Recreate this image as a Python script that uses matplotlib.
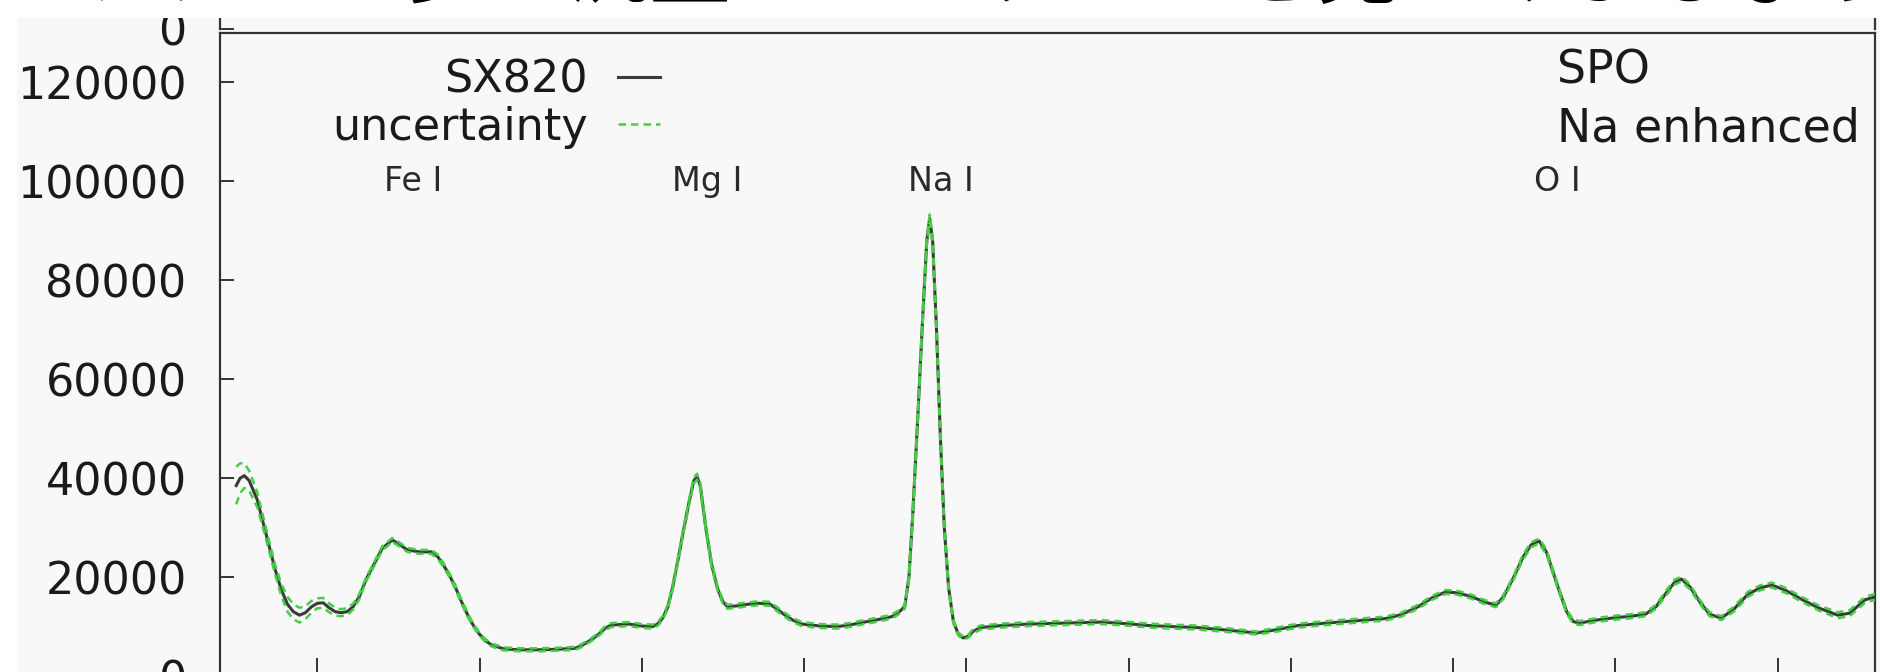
import matplotlib
matplotlib.use("Agg")
import matplotlib.pyplot as plt
from matplotlib.patches import Rectangle

# ---------------- data ----------------
wavelength = [
    375.0, 376.2, 377.5, 379.0, 381.5, 383.3, 385.2, 387.0, 388.9, 390.8,
    392.6, 394.5, 396.3, 398.2, 400.0, 401.8, 403.6, 405.5, 407.3, 409.2,
    411.0, 412.9, 415.0, 417.4, 420.0, 423.1, 425.5, 427.7, 431.4, 435.1,
    437.0, 438.8, 440.6, 442.5, 444.3, 446.2, 448.0, 449.9, 451.7, 453.6,
    457.3, 462.0, 468.3, 474.0, 479.4, 481.3, 483.1, 485.0, 486.8, 488.6,
    490.5, 496.1, 500.0, 503.4, 505.0, 506.5, 508.0, 509.5, 511.0, 512.7,
    514.5, 516.0, 517.0, 518.0, 519.7, 521.5, 523.4, 525.0, 526.4, 529.5,
    532.6, 536.0, 539.3, 541.5, 543.7, 546.5, 549.3, 555.0, 560.3, 564.0,
    567.7, 572.0, 577.0, 579.0, 581.0, 582.3, 583.5, 585.0, 586.5, 587.8,
    588.7, 589.6, 590.8, 592.0, 593.2, 594.5, 596.0, 597.5, 599.0, 600.5,
    602.0, 604.4, 611.0, 619.2, 630.0, 641.4, 649.0, 656.2, 663.0, 670.9,
    680.0, 689.4, 695.0, 702.2, 711.0, 720.7, 729.2, 734.0, 739.2, 743.5,
    747.7, 751.5, 755.8, 759.5, 763.2, 765.5, 768.7, 771.5, 774.0, 776.5,
    778.8, 780.8, 782.8, 785.0, 787.0, 789.0, 794.0, 800.1, 805.0, 809.3,
    812.5, 815.9, 818.3, 820.4, 823.0, 826.0, 829.0, 832.6, 836.5, 840.8,
    844.5, 848.2, 852.5, 857.4, 862.5, 868.5, 872.2, 876.9, 880.0]
sx820 = [
    38500, 40000, 40500, 39500, 35600, 31000, 26100, 21500, 17400, 14500,
    13000, 12300, 12800, 14000, 14700, 14800, 13800, 13000, 12800, 13000,
    14000, 16000, 19500, 22500, 25800, 27500, 26500, 25500, 25100, 25100,
    24200, 22500, 20500, 18000, 15200, 12500, 10300, 8500, 7200, 6300,
    5500, 5300, 5300, 5400, 5600, 6100, 6800, 7600, 8500, 9600,
    10300, 10500, 10100, 10000, 10600, 11800, 14000, 18000, 23000, 29000,
    35000, 39500, 40300, 38500, 30000, 22500, 17500, 15000, 14000, 14200,
    14500, 14700, 14600, 13600, 12500, 11300, 10500, 10100, 10000, 10300,
    10800, 11300, 12000, 12800, 14000, 20000, 33000, 52000, 72000, 88000,
    92500, 88000, 70000, 48000, 30000, 18000, 11000, 8500, 7700, 8000,
    9000, 9800, 10200, 10500, 10700, 10900, 10600, 10200, 10000, 9800,
    9300, 8700, 9300, 10200, 10700, 11200, 11600, 12400, 14000, 15800,
    17000, 16800, 16000, 15000, 14300, 16000, 20000, 24000, 26500, 27300,
    25000, 21000, 17000, 13000, 11000, 10700, 11300, 11800, 12100, 12500,
    14000, 17000, 19000, 19600, 18000, 15000, 12500, 11700, 13500, 16500,
    17800, 18400, 17300, 15500, 13800, 12300, 12700, 15400, 16000]
uncertainty = [
    3800, 3000, 2500, 2000, 1500, 1200, 1000, 1000, 1200, 1500,
    1500, 1500, 1300, 1200, 1000, 1000, 900, 800, 700, 700,
    600, 500, 400, 400, 400, 400, 400, 400, 400, 400,
    400, 400, 400, 400, 400, 400, 300, 300, 300, 300,
    300, 300, 300, 300, 300, 300, 300, 300, 300, 400,
    400, 400, 400, 400, 400, 400, 400, 400, 500, 500,
    500, 600, 600, 600, 500, 500, 400, 400, 400, 400,
    400, 400, 400, 400, 400, 400, 400, 400, 400, 400,
    400, 400, 400, 400, 400, 500, 600, 700, 800, 800,
    800, 800, 800, 700, 600, 500, 400, 300, 300, 300,
    400, 400, 400, 400, 400, 400, 400, 400, 400, 400,
    400, 300, 400, 400, 400, 400, 400, 400, 400, 400,
    400, 400, 400, 400, 400, 400, 400, 500, 500, 500,
    500, 500, 400, 400, 400, 400, 400, 400, 400, 400,
    400, 500, 500, 500, 500, 400, 400, 400, 500, 500,
    500, 500, 500, 500, 500, 600, 600, 600, 600]

line_names = ["Fe I", "Mg I", "Na I", "O I"]
line_wavelengths = [429.6, 520.1, 592.0, 782.0]
line_label_level = 100000

y_ticks = [0, 20000, 40000, 60000, 80000, 100000, 120000]
y_tick_labels = ["0", "20000", "40000", "60000", "80000", "100000", "120000"]
x_ticks = [400, 450, 500, 550, 600, 650, 700, 750, 800, 850]

series_label = "SX820"
uncert_label = "uncertainty"
key_title = ["SPO", "Na enhanced"]
caption = "ナトリウムの多い流星のスペクトルを見てみましょう！"

# ---------------- layout ----------------
W, H = 1881, 672
BG = "#f8f8f8"
FS = 32
fig = plt.figure(figsize=(W / 100, H / 100), dpi=100, facecolor=BG)


def fx(px):
    return px / W


def fy(px):
    return 1 - px / H


plt.rcParams["font.family"] = ["DejaVu Sans"]

ax = fig.add_axes([fx(220), fy(676), fx(1875) - fx(220), fy(33) - fy(676)])
ax.set_facecolor(BG)

upper = [f + e for f, e in zip(sx820, uncertainty)]
lower = [f - e for f, e in zip(sx820, uncertainty)]

h_main, = ax.plot(wavelength, sx820, color="#3a3a3a", lw=2.2, zorder=2)
h_unc, = ax.plot(wavelength, upper, color="#45cf45", lw=1.8,
                 dashes=(3, 2), zorder=3)
ax.plot(wavelength, lower, color="#45cf45", lw=1.8, dashes=(3, 2), zorder=3)

ax.set_xlim(370, 880)
ax.set_ylim(0, 130000)
ax.set_xticks(x_ticks)
ax.set_yticks(y_ticks)
ax.set_yticklabels(y_tick_labels)

for s in ax.spines.values():
    s.set_color("#333333")
    s.set_linewidth(1.6)

ax.tick_params(axis="both", direction="in", labelsize=FS, colors="#333333",
               labelcolor="#1a1a1a", width=1.4)
ax.tick_params(axis="y", length=10, pad=24)
ax.tick_params(axis="x", length=13, pad=8)

for name, wl in zip(line_names, line_wavelengths):
    ax.text(wl, line_label_level, name, ha="center", va="center",
            fontsize=24, color="#2a2a2a")

# key (gnuplot style: text right aligned, sample to the right)
key_x = (660 - 220) / 1655
common = dict(loc="center right", frameon=False, markerfirst=False,
              handlelength=0.95, handletextpad=0.68, borderpad=0,
              borderaxespad=0, fontsize=FS)
leg1 = ax.legend([h_main], [series_label], bbox_to_anchor=(key_x, 0.927), **common)
for t in leg1.get_texts():
    t.set_color("#1a1a1a")
ax.add_artist(leg1)
leg2 = ax.legend([h_unc], [uncert_label], bbox_to_anchor=(key_x, 0.853), **common)
for t in leg2.get_texts():
    t.set_color("#1a1a1a")

tx = (1557 - 220) / 1655
ax.text(tx, 0.921, key_title[0], transform=ax.transAxes, ha="left",
        va="baseline", fontsize=FS + 1, color="#1a1a1a")
ax.text(tx, 0.832, key_title[1], transform=ax.transAxes, ha="left",
        va="baseline", fontsize=FS + 1, color="#1a1a1a")

# panel above (only its zero tick is visible)
ax2 = fig.add_axes([fx(220), fy(29), fx(1875) - fx(220), 0.1])
ax2.patch.set_visible(False)
ax2.set_ylim(0, 1)
ax2.set_yticks([0])
ax2.set_yticklabels(["0"])
ax2.set_xticks([])
for side in ("top", "bottom"):
    ax2.spines[side].set_visible(False)
for side in ("left", "right"):
    ax2.spines[side].set_color("#333333")
    ax2.spines[side].set_linewidth(1.6)
ax2.tick_params(axis="y", direction="in", length=10, pad=24, width=1.4,
                labelsize=FS, colors="#333333", labelcolor="#1a1a1a")

# white frame of the video still and the caption overlay
fig.add_artist(Rectangle((0, fy(18)), 1, 18 / H, transform=fig.transFigure,
                         facecolor="white", edgecolor="none", zorder=5))
fig.add_artist(Rectangle((0, 0), 17 / W, 1, transform=fig.transFigure,
                         facecolor="white", edgecolor="none", zorder=5))
fig.text(0.5, fy(-4), caption, ha="center", va="baseline", fontsize=60,
         fontweight="bold", color="black", zorder=6,
         family=["Noto Sans CJK JP", "DejaVu Sans"])

fig.savefig("out.png", dpi=100, facecolor=BG)
